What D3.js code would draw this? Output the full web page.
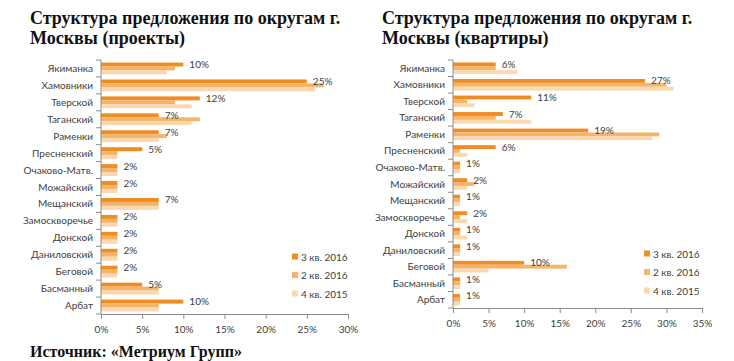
<!DOCTYPE html>
<html>
<head>
<meta charset="utf-8">
<script src="https://cdnjs.cloudflare.com/ajax/libs/d3/7.8.5/d3.min.js"></script>
<style>
  body { margin: 0; background: #fff; }
  .title { font-family: "Liberation Serif", "Times New Roman", serif; font-weight: bold; font-size: 18px; fill: #111; }
  .cat, .tick-label, .val, .leg { font-family: Lato, "Open Sans", sans-serif; font-size: 10px; fill: #404040; }
</style>
</head>
<body>
<script>
"use strict";

var categories = ["Якиманка", "Хамовники", "Тверской", "Таганский", "Раменки", "Пресненский",
  "Очаково-Матв.", "Можайский", "Мещанский", "Замоскворечье", "Донской", "Даниловский",
  "Беговой", "Басманный", "Арбат"];

var seriesNames = ["3 кв. 2016", "2 кв. 2016", "4 кв. 2015"];

// projects (left)
var projQ3_2016 = [10, 25, 12, 7, 7, 5, 2, 2, 7, 2, 2, 2, 2, 5, 10];
var projQ2_2016 = [9, 27, 9, 12, 8, 2, 2, 2, 7, 2, 2, 2, 2, 7, 7];
var projQ4_2015 = [8, 26, 11, 11, 7, 2, 2, 2, 7, 2, 2, 2, 2, 7, 7];
var projTicks = [0, 5, 10, 15, 20, 25, 30];

// flats (right)
var flatQ3_2016 = [6, 27, 11, 7, 19, 6, 1, 2, 1, 2, 1, 1, 10, 1, 1];
var flatQ2_2016 = [6, 30, 2, 6, 29, 1, 1, 3, 1, 1, 1, 1, 16, 1, 1];
var flatQ4_2015 = [9, 31, 3, 11, 28, 2, 1, 2, 1, 2, 2, 1, 5, 1, 1];
var flatTicks = [0, 5, 10, 15, 20, 25, 30, 35];

var colors = ["#ef8c22", "#f6b46b", "#fbd8b0"];

var width = 734, height = 361;

var svg = d3.select("body")
  .append("svg")
  .attr("width", width)
  .attr("height", height);

drawChart({
  title: ["Структура предложения по округам г.", "Москвы (проекты)"],
  titleX: 30,
  series: [projQ3_2016, projQ2_2016, projQ4_2015],
  ticks: projTicks,
  x0: 101, x1: 348, top: 60, bottom: 314,
  legendX: 292, legendY: 257
});

drawChart({
  title: ["Структура предложения по округам г.", "Москвы (квартиры)"],
  titleX: 382,
  series: [flatQ3_2016, flatQ2_2016, flatQ4_2015],
  ticks: flatTicks,
  x0: 453, x1: 702, top: 60, bottom: 308,
  legendX: 644, legendY: 254
});

svg.append("text")
  .attr("class", "title")
  .attr("x", 30)
  .attr("y", 357)
  .style("font-size", "16px")
  .text("Источник: «Метриум Групп»");

function drawChart(o) {
  var g = svg.append("g");

  g.selectAll("text.title")
    .data(o.title)
    .enter()
    .append("text")
    .attr("class", "title")
    .attr("x", o.titleX)
    .attr("y", function (d, i) { return 24 + i * 20; })
    .text(function (d) { return d; });

  var x = d3.scaleLinear()
    .domain([0, d3.max(o.ticks)])
    .range([o.x0, o.x1]);

  var y = d3.scaleBand()
    .domain(categories)
    .range([o.top, o.bottom])
    .paddingInner(0.3)
    .paddingOuter(0.15);

  var sub = d3.scaleBand()
    .domain([0, 1, 2])
    .range([0, y.bandwidth()]);

  // bars
  o.series.forEach(function (vals, si) {
    g.selectAll(null)
      .data(vals)
      .enter()
      .append("rect")
      .attr("x", x(0))
      .attr("y", function (d, i) { return y(categories[i]) + sub(si); })
      .attr("width", function (d) { return x(d) - x(0); })
      .attr("height", sub.bandwidth())
      .attr("fill", colors[si]);
  });

  // value labels for first series
  g.selectAll("text.val")
    .data(o.series[0])
    .enter()
    .append("text")
    .attr("class", "val")
    .attr("x", function (d) { return x(d) + 6; })
    .attr("y", function (d, i) { return y(categories[i]) + sub(0) + sub.bandwidth() / 2; })
    .attr("dy", "0.35em")
    .text(function (d) { return d + "%"; });

  // x axis
  var xAxis = g.append("g")
    .attr("transform", "translate(0," + o.bottom + ")")
    .call(d3.axisBottom(x).tickValues(o.ticks).tickSize(5).tickSizeOuter(0)
      .tickFormat(function (d) { return d + "%"; }));
  xAxis.select(".domain").attr("stroke", "#8c8c8c");
  xAxis.selectAll(".tick line").attr("stroke", "#8c8c8c");
  xAxis.selectAll(".tick text").attr("class", "tick-label").attr("fill", null).attr("dy", "1.1em");

  // y axis line with ticks at band boundaries
  var step = y.step();
  g.append("line")
    .attr("x1", x(0)).attr("x2", x(0))
    .attr("y1", o.top).attr("y2", o.bottom)
    .attr("stroke", "#8c8c8c");
  g.selectAll("line.ytick")
    .data(d3.range(categories.length + 1))
    .enter()
    .append("line")
    .attr("x1", x(0) - 5).attr("x2", x(0))
    .attr("y1", function (d) { return o.top + d * step; })
    .attr("y2", function (d) { return o.top + d * step; })
    .attr("stroke", "#8c8c8c");

  g.selectAll("text.cat")
    .data(categories)
    .enter()
    .append("text")
    .attr("class", "cat")
    .attr("x", x(0) - 8)
    .attr("y", function (d) { return y(d) + y.bandwidth() / 2; })
    .attr("dy", "0.35em")
    .attr("text-anchor", "end")
    .text(function (d) { return d; });

  // legend
  var leg = g.selectAll("g.leg")
    .data(seriesNames)
    .enter()
    .append("g")
    .attr("transform", function (d, i) { return "translate(" + o.legendX + "," + (o.legendY + i * 18.5) + ")"; });
  leg.append("rect")
    .attr("x", 0).attr("y", -3.5)
    .attr("width", 6).attr("height", 6)
    .attr("fill", function (d, i) { return colors[i]; });
  leg.append("text")
    .attr("class", "leg")
    .attr("x", 9)
    .attr("dy", "0.35em")
    .text(function (d) { return d; });
}
</script>
</body>
</html>
